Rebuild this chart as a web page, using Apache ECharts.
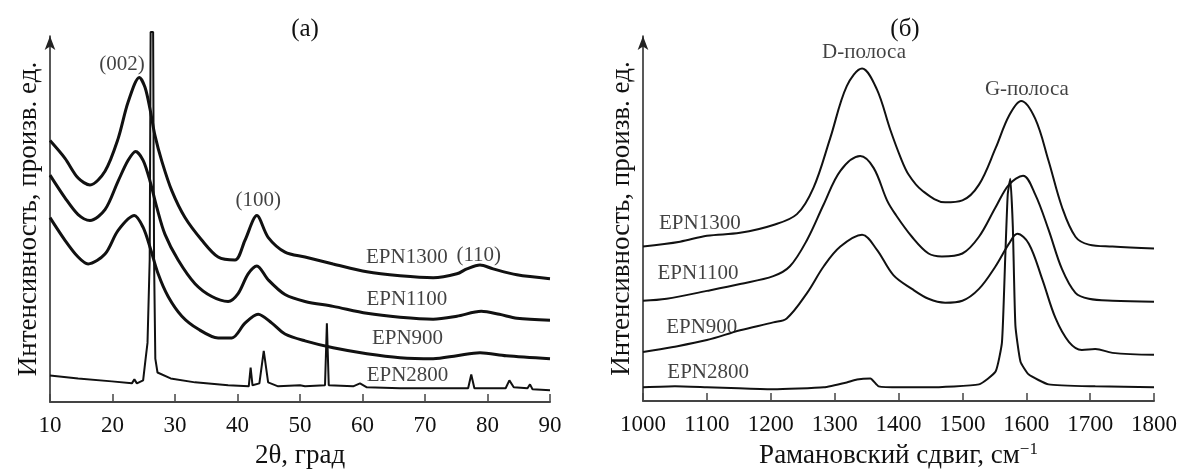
<!DOCTYPE html>
<html>
<head>
<meta charset="utf-8">
<script src="https://cdn.jsdelivr.net/npm/echarts@6/dist/echarts.min.js"></script>
<style>html,body{margin:0;padding:0;background:#fff}#c{width:1182px;height:474px}</style>
</head>
<body>
<div id="c"></div>
<script>
// ---- Panel (а): XRD, [2θ, intensity (a.u.)]
var xrd1300 = [[10,265],[12.4,247],[14.5,227],[16.4,220],[18.8,234],[20.9,267],[22.5,304],[24.3,329],[25.2,319],[26,297],[26.8,270],[27.9,244],[29.5,214],[31.6,187],[34.3,164],[36.9,147],[39.6,144],[41.2,164],[43.1,189],[44.9,167],[47.6,152],[50.8,147],[55.3,140],[60.7,132],[66,128],[71.3,126],[75.1,130],[76.7,135],[78.8,139],[80.9,135],[84.7,129],[90,125]];
var xrd1100 = [[10,230],[12.4,207],[14.5,190],[16.4,184],[18.8,195],[20.9,224],[22.5,245],[23.7,254],[24.9,245],[26,224],[27.1,197],[28.4,170],[30.5,144],[33.2,120],[35.9,107],[38.5,102],[40.1,110],[41.7,130],[43.1,138],[44.9,124],[47.6,109],[50.8,102],[55.3,97],[60.7,90],[66,86],[71.3,84],[75.1,87],[79,92],[81.9,89],[84.7,85],[90,83]];
var xrd900 = [[10,187],[12.4,164],[14.5,147],[16.1,140],[18.8,150],[20.9,174],[23.5,189],[24.9,177],[26,157],[27.3,130],[28.9,107],[31.1,87],[33.7,74],[36.9,65],[39.1,65],[41.2,80],[43.3,89],[45.5,80],[47.6,69],[50.8,62],[55.3,55],[60.7,49],[66,45],[71.3,44],[75.1,47],[78.8,50],[83,47],[90,44]];
var xrd2800 = [[10,27],[14.5,24],[19.9,21],[23.1,19],[23.5,23],[23.9,19],[24.9,22],[25.3,44],[25.6,60],[25.95,144],[26.1,375],[26.5,375],[26.65,144],[26.85,44],[27.2,30],[29.3,24],[33.2,20],[38.5,17],[41.8,16],[42.1,35],[42.4,17],[43.5,19],[44.2,52],[44.9,20],[46.5,16],[50.0,17],[50.3,19],[50.8,16],[54.0,17],[54.3,80],[54.6,17],[58.5,16],[59.6,19],[60.7,15],[66,14],[76.9,14],[77.4,28],[77.9,14],[82.9,14],[83.5,22],[84.2,15],[86.4,14],[86.8,18],[87.2,13],[90,12]];

// ---- Panel (б): Raman, [shift cm-1, intensity (a.u.)]
var raman1300 = [[1000,157],[1058,162],[1100,168],[1152,171],[1204,179],[1241,190],[1267,217],[1293,267],[1319,320],[1343,338],[1366,317],[1387,276],[1403,248],[1416,230],[1437,214],[1473,202],[1500,204],[1526,220],[1552,257],[1573,290],[1592,305],[1614,287],[1635,244],[1656,197],[1677,167],[1698,159],[1735,157],[1800,155]];
var raman1100 = [[1000,102],[1037,104],[1100,112],[1152,119],[1204,127],[1230,137],[1257,164],[1283,200],[1309,234],[1340,249],[1361,237],[1382,204],[1395,190],[1421,167],[1447,150],[1468,147],[1500,150],[1526,167],[1552,197],[1573,220],[1595,229],[1614,210],[1635,174],[1656,134],[1677,110],[1698,104],[1735,102],[1800,101]];
var raman900 = [[1000,50],[1047,55],[1100,62],[1152,72],[1204,80],[1225,84],[1257,110],[1283,137],[1309,157],[1343,169],[1366,154],[1392,128],[1421,114],[1447,104],[1473,100],[1500,102],[1526,114],[1552,137],[1573,160],[1586,170],[1604,160],[1625,124],[1646,84],[1667,60],[1687,52],[1708,53],[1735,49],[1800,47]];
var raman2800 = [[1000,14],[1050,15],[1100,14],[1150,13],[1204,12],[1283,14],[1319,19],[1335,22],[1356,23],[1369,15],[1403,14],[1447,14],[1526,17],[1552,30],[1562,60],[1567,144],[1571,210],[1575,226],[1579,177],[1583,77],[1591,40],[1604,27],[1635,17],[1708,15],[1800,14]];

// ---- annotations in data coordinates
var notesA = [["(002)",21.5,342],["(100)",43.3,204],["(110)",78.6,149],["EPN1300",67.1,147],["EPN1100",67.1,104],["EPN900",67.2,64],["EPN2800",67.2,27]];
var notesB = [["D-полоса",1346,354],["G-полоса",1601,317],["EPN1300",1089,180],["EPN1100",1086,130],["EPN900",1092,75],["EPN2800",1102,29]];

var FONT = "'Liberation Serif', 'DejaVu Serif', serif";
var INK = '#111';
var yTitle = 'Интенсивность, произв. ед.';

function xAxisCfg(idx, min, max, interval, name) {
  return {
    type: 'value', gridIndex: idx, min: min, max: max, interval: interval,
    name: name, nameLocation: 'middle', nameGap: 38,
    nameTextStyle: {fontFamily: FONT, fontSize: 27, color: INK,
      rich: {sup: {fontFamily: FONT, fontSize: 17, color: INK, verticalAlign: 'top', padding: [0,0,12,0]}}},
    axisLine: {lineStyle: {color: '#444', width: 2}},
    axisTick: {inside: true, length: 8, lineStyle: {color: '#444', width: 1.5}},
    axisLabel: {fontFamily: FONT, fontSize: 23, color: INK, margin: 12,
      formatter: function (v) { return String(v); }},
    splitLine: {show: false}
  };
}
function yAxisCfg(idx) {
  return {
    type: 'value', gridIndex: idx, min: 0, max: 371,
    name: yTitle, nameLocation: 'middle', nameGap: 8,
    nameTextStyle: {fontFamily: FONT, fontSize: 27, color: INK},
    axisLine: {show: true, symbol: ['none','arrow'], symbolSize: [8, 14], lineStyle: {color: '#222', width: 1.5}},
    axisTick: {show: false}, axisLabel: {show: false}, splitLine: {show: false}
  };
}
function lineS(data, xi, w, smooth) {
  return {type: 'line', xAxisIndex: xi, yAxisIndex: xi, data: data, showSymbol: false, clip: false,
    smooth: smooth, lineStyle: {color: INK, width: w}, silent: true, z: 3};
}
function notesS(notes, xi) {
  return {type: 'scatter', xAxisIndex: xi, yAxisIndex: xi, symbolSize: 1, silent: true, z: 5,
    itemStyle: {color: 'transparent'},
    data: notes.map(function (n) { return {value: [n[1], n[2]], name: n[0]}; }),
    label: {show: true, position: 'inside', formatter: function (p) { return p.name; },
      fontFamily: FONT, fontSize: 21, color: INK}};
}

var chart = echarts.init(document.getElementById('c'), null, {renderer: 'canvas'});
chart.setOption({
  animation: false,
  backgroundColor: '#fff',
  title: [
    {text: '(а)', left: 300, top: 12, textAlign: 'center', textStyle: {fontFamily: FONT, fontSize: 25, fontWeight: 'normal', color: INK}},
    {text: '(б)', left: 900, top: 12, textAlign: 'center', textStyle: {fontFamily: FONT, fontSize: 25, fontWeight: 'normal', color: INK}}
  ],
  grid: [
    {left: 50, top: 36, width: 500, height: 371},
    {left: 643, top: 36, width: 511, height: 371}
  ],
  xAxis: [
    xAxisCfg(0, 10, 90, 10, '2θ, град'),
    xAxisCfg(1, 1000, 1800, 100, 'Рамановский сдвиг, см{sup|−1}')
  ],
  yAxis: [yAxisCfg(0), yAxisCfg(1)],
  series: [
    lineS(xrd1300, 0, 3, 0.3),
    lineS(xrd1100, 0, 3, 0.3),
    lineS(xrd900, 0, 3, 0.3),
    lineS(xrd2800, 0, 2, false),
    lineS(raman1300, 1, 2, 0.35),
    lineS(raman1100, 1, 2, 0.35),
    lineS(raman900, 1, 2, 0.35),
    lineS(raman2800, 1, 2, 0.15),
    notesS(notesA, 0),
    notesS(notesB, 1)
  ]
});
</script>
</body>
</html>
